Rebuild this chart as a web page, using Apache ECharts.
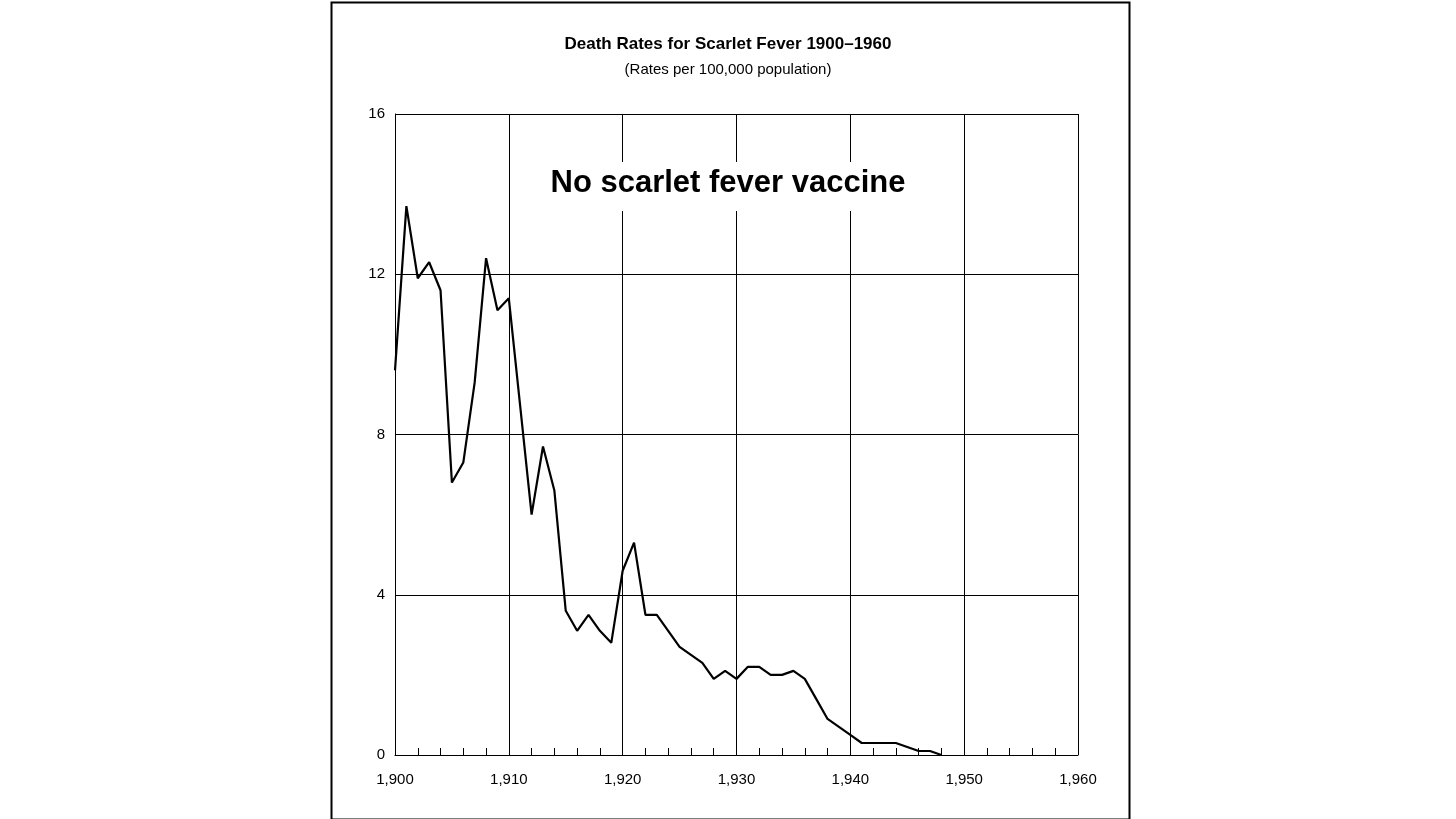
<!DOCTYPE html>
<html><head><meta charset="utf-8">
<script src="https://cdn.jsdelivr.net/npm/echarts@6/dist/echarts.min.js"></script>
<style>html,body{margin:0;padding:0;background:#fff}#c{width:1456px;height:819px}</style>
</head><body><div id="c"></div>
<script>
const years = [];
for (let y = 1900; y <= 1948; y++) years.push(y);
const rates = [9.6,13.7,11.9,12.3,11.6,6.8,7.3,9.3,12.4,11.1,11.4,8.7,6.0,7.7,6.6,3.6,3.1,3.5,3.1,2.8,4.6,5.3,3.5,3.5,3.1,2.7,2.5,2.3,1.9,2.1,1.9,2.2,2.2,2.0,2.0,2.1,1.9,1.4,0.9,0.7,0.5,0.3,0.3,0.3,0.3,0.2,0.1,0.1,0.0];
const titleText = 'Death Rates for Scarlet Fever 1900\u20131960';
const subtitleText = '(Rates per 100,000 population)';
const noteText = 'No scarlet fever vaccine';
const F = '"Liberation Sans", Arial, sans-serif';
const chart = echarts.init(document.getElementById('c'));
chart.setOption({
  animation:false,
  title:{text:titleText,subtext:subtitleText,left:'center',top:31,itemGap:9,
    textStyle:{fontFamily:F,fontSize:17,fontWeight:'bold',color:'#000'},
    subtextStyle:{fontFamily:F,fontSize:15,color:'#000'}},
  grid:{left:395,right:378,top:114,bottom:64},
  xAxis:{type:'value',min:1900,max:1960,interval:10,
    axisLine:{lineStyle:{color:'#000',width:1}},
    axisTick:{show:false},
    minorTick:{show:true,splitNumber:5,length:-7,lineStyle:{color:'#000',width:1}},
    splitLine:{show:true,lineStyle:{color:'#000',width:1}},
    axisLabel:{fontFamily:F,fontSize:15,color:'#000',margin:17}},
  yAxis:{type:'value',min:0,max:16,interval:4,
    axisLine:{show:true,lineStyle:{color:'#000'}},
    axisTick:{show:false},
    splitLine:{show:true,lineStyle:{color:'#000',width:1}},
    axisLabel:{fontFamily:F,fontSize:15,color:'#000',margin:10}},
  series:[{type:'line',data:years.map((y,i)=>[y,rates[i]]),symbol:'none',
    lineStyle:{color:'#000',width:2.2},z:3}],
  graphic:[
    {type:'rect',left:329,top:0,shape:{width:798,height:817},style:{fill:'none',stroke:'#000',lineWidth:2},silent:true},
    {type:'text',left:'center',top:162,z:10,style:{text:noteText,font:'bold 31px '+F,fill:'#000',
      backgroundColor:'#fff',padding:[6,14,12,14]}}
  ]
});
</script></body></html>
